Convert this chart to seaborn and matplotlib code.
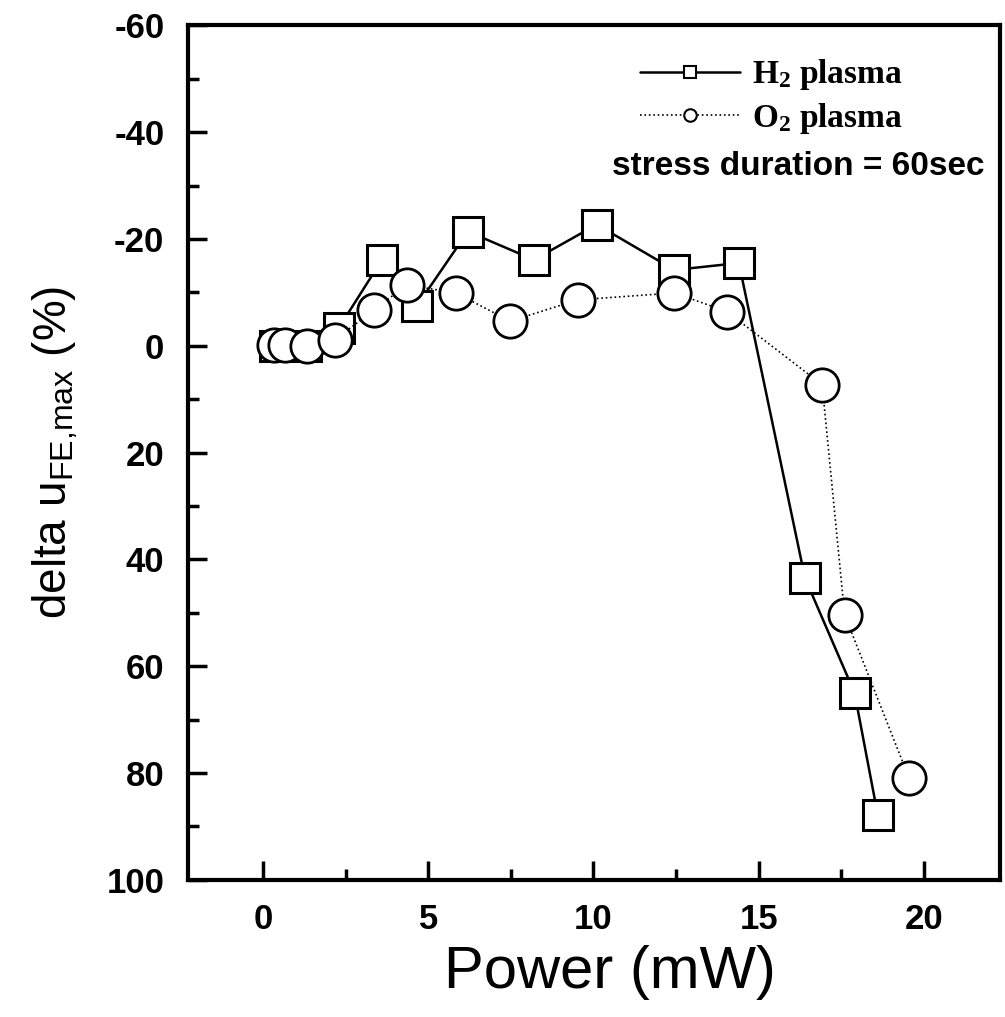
import numpy as np
import pandas as pd
import seaborn as sns
import matplotlib.pyplot as plt
from matplotlib.ticker import MultipleLocator

# data
h2_power = [0.35, 1.3, 2.3, 3.6, 4.65, 6.2, 8.2, 10.1, 12.45, 14.4, 16.4, 17.9, 18.6]
h2_delta = [0.0, 0.0, -3.4, -16.1, -7.4, -21.4, -16.1, -22.7, -14.2, -15.5, 43.5, 65.0, 87.8]

o2_power = [0.33, 0.68, 1.32, 2.17, 3.36, 4.35, 5.84, 7.48, 9.52, 12.45, 14.04, 16.92, 17.6, 19.55]
o2_delta = [-0.2, -0.2, 0.1, -1.1, -6.7, -11.4, -9.9, -4.6, -8.6, -9.9, -6.4, 7.3, 50.4, 81.0]

x_ticks = [0, 5, 10, 15, 20]
y_ticks = [-60, -40, -20, 0, 20, 40, 60, 80, 100]

sns.set_style("ticks")
plt.rcParams['font.family'] = ['Liberation Sans', 'DejaVu Sans']
plt.rcParams['axes.unicode_minus'] = False
for key in ['text.color', 'axes.labelcolor', 'xtick.color', 'ytick.color', 'axes.edgecolor']:
    plt.rcParams[key] = 'black'

h2 = pd.DataFrame({'power': h2_power, 'delta': h2_delta})
o2 = pd.DataFrame({'power': o2_power, 'delta': o2_delta})

fig = plt.figure(figsize=(10.05, 10.17), dpi=100)
ax = fig.add_axes([0.187, 0.135, 0.808, 0.84])

sns.lineplot(data=h2, x='power', y='delta', ax=ax, color='black', lw=1.8,
             marker='s', markersize=22, markerfacecolor='white',
             markeredgecolor='black', markeredgewidth=2.2,
             label=r'$\mathregular{H_2}$ plasma')
sns.lineplot(data=o2, x='power', y='delta', ax=ax, color='black', lw=1.2,
             linestyle=':', marker='o', markersize=24, markerfacecolor='white',
             markeredgecolor='black', markeredgewidth=2.0,
             label=r'$\mathregular{O_2}$ plasma')

ax.set_xlim(-2.27, 22.3)
ax.set_ylim(100, -60)
ax.set_xticks(x_ticks)
ax.set_yticks(y_ticks)
ax.xaxis.set_minor_locator(MultipleLocator(2.5))
ax.yaxis.set_minor_locator(MultipleLocator(10))
ax.tick_params(which='both', direction='in', width=2.5, labelsize=25, pad=17)
ax.tick_params(which='major', length=14)
ax.tick_params(which='minor', length=8)
for lab in ax.get_xticklabels() + ax.get_yticklabels():
    lab.set_fontweight('bold')
for sp in ax.spines.values():
    sp.set_linewidth(3)

ax.set_xlabel('Power (mW)', fontsize=43)
ax.xaxis.set_label_coords(0.52, -0.077)
ax.set_ylabel(r'delta $\mathregular{u_{FE{,}max}}$ (%)', fontsize=33)
ax.yaxis.set_label_coords(-0.133, 0.5)

leg = ax.legend(loc='upper left', frameon=False, handlelength=3.0, handletextpad=0.35,
                borderaxespad=0, borderpad=0, labelspacing=0.25,
                bbox_to_anchor=(0.557, 0.9625),
                prop={'family': 'Liberation Serif', 'weight': 'bold', 'size': 24})
for h in leg.legend_handles:
    h.set_markersize(9)
    h.set_markeredgewidth(1.5)
ax.text(0.981, 0.835, 'stress duration = 60sec', transform=ax.transAxes,
        ha='right', va='center', fontsize=24, fontweight='bold')

fig.savefig('out.png', dpi=100)
